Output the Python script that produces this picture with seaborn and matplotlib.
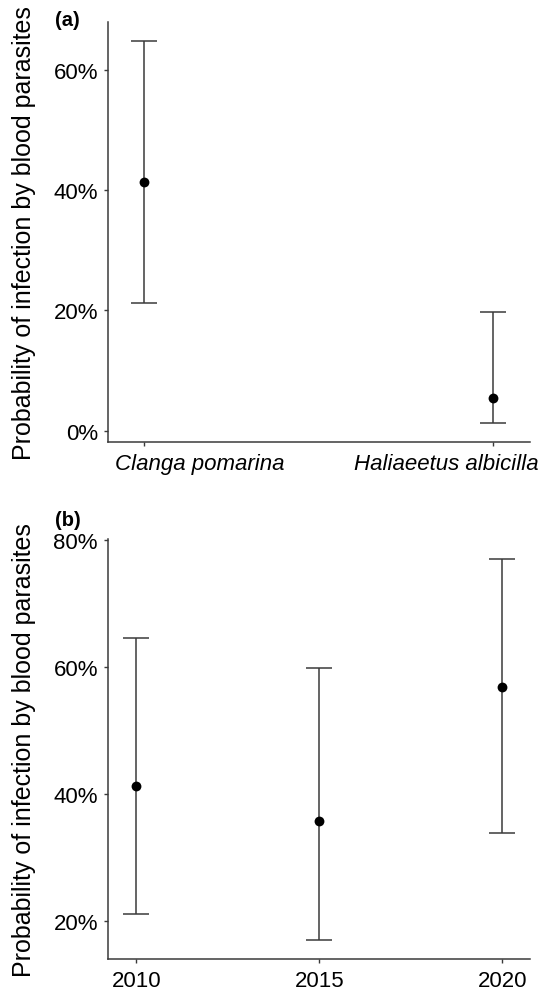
import matplotlib
matplotlib.use("Agg")
import matplotlib.pyplot as plt
import matplotlib.transforms as mtransforms
from matplotlib.ticker import PercentFormatter
import seaborn as sns
import pandas as pd

# (a) species
species = ["Clanga pomarina", "Haliaeetus albicilla"]
sp_est = [0.414, 0.055]
sp_low = [0.212, 0.013]
sp_high = [0.648, 0.198]

# (b) years
years = [2010, 2015, 2020]
yr_est = [0.413, 0.357, 0.568]
yr_low = [0.211, 0.170, 0.338]
yr_high = [0.646, 0.599, 0.771]

ylab = "Probability of infection by blood parasites"
line_col = "#3a3a3a"

sns.set_theme(style="ticks")
plt.rcParams["font.family"] = ["Liberation Sans", "DejaVu Sans"]
plt.rcParams["text.color"] = "black"
plt.rcParams["axes.labelcolor"] = "black"
plt.rcParams["axes.edgecolor"] = line_col
plt.rcParams["axes.linewidth"] = 1.1
plt.rcParams["xtick.color"] = line_col
plt.rcParams["ytick.color"] = line_col
plt.rcParams["xtick.labelcolor"] = "black"
plt.rcParams["ytick.labelcolor"] = "black"
plt.rcParams["xtick.major.size"] = 3
plt.rcParams["ytick.major.size"] = 3
plt.rcParams["xtick.major.width"] = 1.0
plt.rcParams["ytick.major.width"] = 1.0

fig = plt.figure(figsize=(5.41, 9.95), dpi=100)
ax1 = fig.add_axes([0.199, 0.555, 0.780, 0.422])
ax2 = fig.add_axes([0.199, 0.035, 0.780, 0.422])

df_a = pd.DataFrame({"species": species, "est": sp_est, "low": sp_low, "high": sp_high})
df_b = pd.DataFrame({"year": years, "est": yr_est, "low": yr_low, "high": yr_high})

# panel a
xpos = list(range(len(species)))
ax1.errorbar(xpos, df_a["est"], yerr=[df_a["est"] - df_a["low"], df_a["high"] - df_a["est"]],
             fmt="none", ecolor=line_col, elinewidth=1.1, capsize=9.7, capthick=1.1, zorder=2)
sns.scatterplot(x=xpos, y=df_a["est"], ax=ax1, color="black", s=50, edgecolor="black",
                linewidth=0, zorder=3, legend=False)
ax1.set_xlim(-0.1037, 1.1037)
ax1.set_ylim(-0.0184, 0.6797)
ax1.set_yticks([0, 0.2, 0.4, 0.6])
ax1.set_xticks(xpos)
ax1.set_xticklabels(species, fontstyle="italic")

# panel b
ax2.errorbar(df_b["year"], df_b["est"], yerr=[df_b["est"] - df_b["low"], df_b["high"] - df_b["est"]],
             fmt="none", ecolor=line_col, elinewidth=1.1, capsize=9.7, capthick=1.1, zorder=2)
sns.scatterplot(data=df_b, x="year", y="est", ax=ax2, color="black", s=50, edgecolor="black",
                linewidth=0, zorder=3, legend=False)
ax2.set_xlim(2009.22, 2020.75)
ax2.set_ylim(0.1395, 0.8015)
ax2.set_yticks([0.2, 0.4, 0.6, 0.8])
ax2.set_xticks(years)

for ax in (ax1, ax2):
    sns.despine(ax=ax)
    ax.yaxis.set_major_formatter(PercentFormatter(1.0, decimals=0))
    ax.tick_params(axis="both", labelsize=16, pad=4)
    ax.tick_params(axis="x", pad=5)
    ax.set_xlabel("")
    ax.set_ylabel(ylab, fontsize=18, color="black")
    ax.yaxis.set_label_coords(-0.17, 0.5)

# shift species labels like the original
lbls = ax1.get_xticklabels()
lbls[0].set_ha("left")
lbls[0].set_transform(lbls[0].get_transform() + mtransforms.ScaledTranslation(-0.287, 0, fig.dpi_scale_trans))
lbls[1].set_ha("right")
lbls[1].set_transform(lbls[1].get_transform() + mtransforms.ScaledTranslation(0.45, 0, fig.dpi_scale_trans))

fig.text(55 / 541, 1 - 20 / 995, "(a)", fontsize=14.5, fontweight="bold", color="black",
         ha="left", va="center")
fig.text(55 / 541, 1 - 520 / 995, "(b)", fontsize=14.5, fontweight="bold", color="black",
         ha="left", va="center")

fig.savefig("out.png", dpi=100)
